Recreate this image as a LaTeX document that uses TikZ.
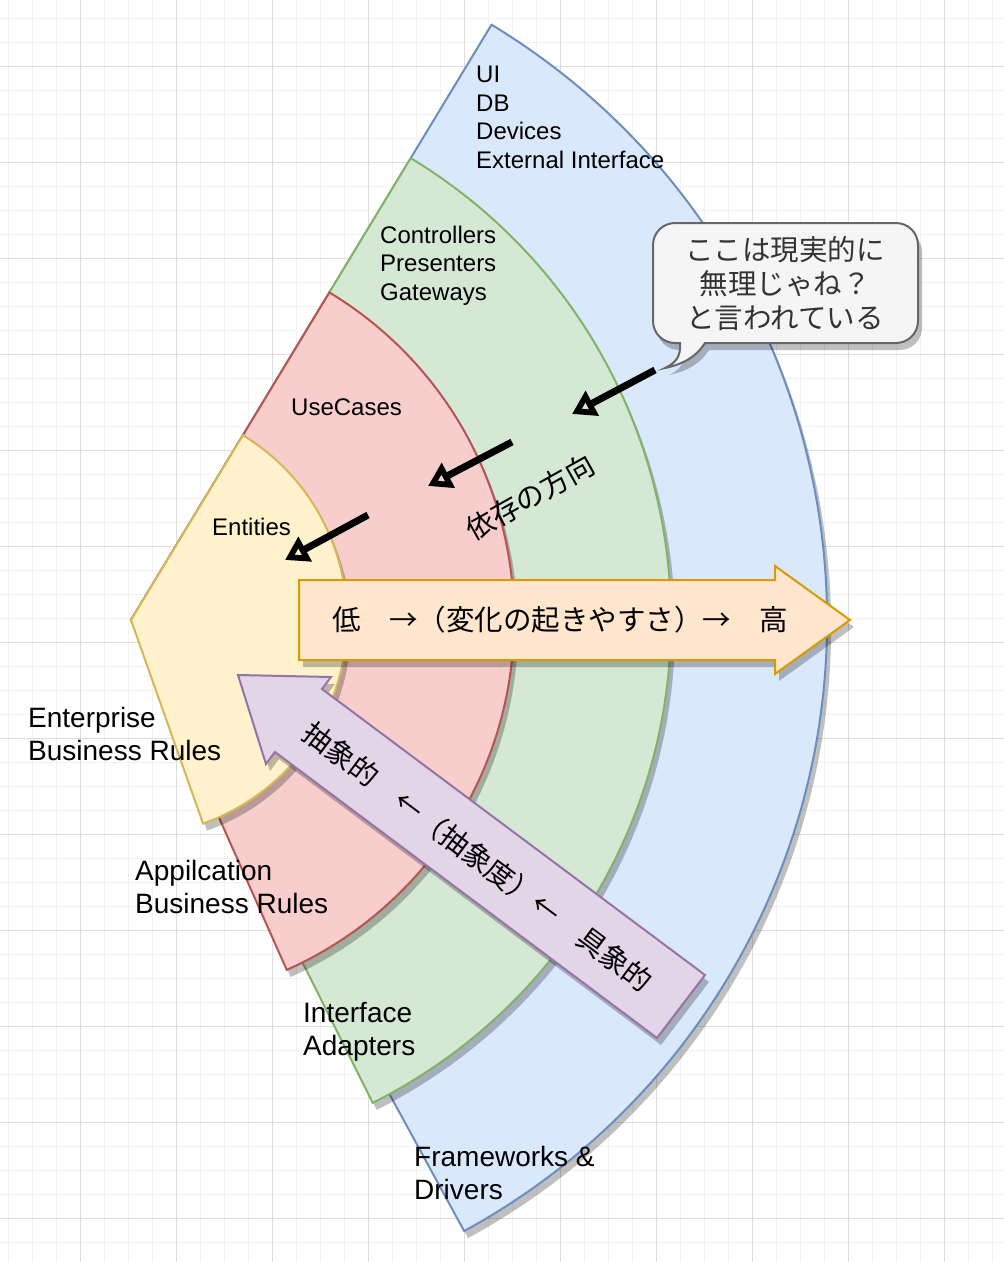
\documentclass[tikz,border=0pt]{standalone}
\usepackage{fontspec}
\setmainfont{Liberation Sans}
\newfontfamily\jpfont{Noto Sans CJK JP}
\usetikzlibrary{arrows.meta,shadows}

\definecolor{gridMinor}{HTML}{F2F2F2}
\definecolor{gridMajor}{HTML}{DDDDDD}
\definecolor{blueFill}{HTML}{DAE8FC}
\definecolor{blueLine}{HTML}{6C8EBF}
\definecolor{greenFill}{HTML}{D5E8D4}
\definecolor{greenLine}{HTML}{82B366}
\definecolor{redFill}{HTML}{F8CECC}
\definecolor{redLine}{HTML}{B85450}
\definecolor{yellowFill}{HTML}{FFF2CC}
\definecolor{yellowLine}{HTML}{D6B656}
\definecolor{orangeFill}{HTML}{FFE6CC}
\definecolor{orangeLine}{HTML}{D79B00}
\definecolor{purpleFill}{HTML}{E1D5E7}
\definecolor{purpleLine}{HTML}{9673A6}
\definecolor{noteFill}{HTML}{F5F5F5}
\definecolor{noteLine}{HTML}{666666}
\definecolor{noteText}{HTML}{333333}

\tikzstyle{minorgrid} = [draw=gridMinor, line width=1pt]
\tikzstyle{majorgrid} = [draw=gridMajor, line width=1pt]
\tikzstyle{sector} = [line width=2pt,
    drop shadow={shadow xshift=4pt, shadow yshift=-7pt, opacity=0.25, fill=black}]
\tikzstyle{blockarrow} = [line width=2pt,
    drop shadow={shadow xshift=4pt, shadow yshift=-7pt, opacity=0.25, fill=black}]
\tikzstyle{ringtext} = [inner sep=0pt, anchor=base west, align=left,
    font=\fontsize{24}{28.5}\selectfont]
\tikzstyle{bigtext} = [inner sep=0pt, anchor=base west, align=left,
    font=\fontsize{28}{33}\selectfont]
\tikzstyle{jptext} = [inner sep=0pt, font=\jpfont\fontsize{28.5}{34}\selectfont]
\tikzstyle{dep} = [draw, line width=7pt, -{Triangle[open, length=23pt, width=27pt]}]

\begin{document}
\begin{tikzpicture}[x=1pt, y=-1pt]
    \useasboundingbox (0,0) rectangle (1004,1262);
    % Background grid
    \foreach \gx in {8,32,...,1004} \draw[minorgrid] (\gx,0) -- (\gx,1262);
    \foreach \gy in {18,42,...,1262} \draw[minorgrid] (0,\gy) -- (1004,\gy);
    \foreach \gx in {80,176,...,1004} \draw[majorgrid] (\gx,0) -- (\gx,1262);
    \foreach \gy in {66,162,...,1262} \draw[majorgrid] (0,\gy) -- (1004,\gy);

    % Rings
    \coordinate (Core) at (131,620);
    \filldraw[sector, fill=blueFill, draw=blueLine] (Core) -- ++(-58.8:696)
        arc[start angle=-58.8, end angle=61.4, radius=696] -- cycle;
    \filldraw[sector, fill=greenFill, draw=greenLine] (Core) -- ++(-58.8:540)
        arc[start angle=-58.8, end angle=63.4, radius=540] -- cycle;
    \filldraw[sector, fill=redFill, draw=redLine] (Core) -- ++(-58.8:383)
        arc[start angle=-58.8, end angle=66.0, radius=383] -- cycle;
    \filldraw[sector, fill=yellowFill, draw=yellowLine] (Core) -- ++(-58.8:216)
        arc[start angle=-58.8, end angle=70.5, radius=216] -- cycle;

    % Place nodes (base = last line)
    \node [ringtext] (Outer) at (476,168) {UI\\DB\\Devices\\External Interface};
    \node [ringtext] (Adapters) at (380,300) {Controllers\\Presenters\\Gateways};
    \node [ringtext] (UseCases) at (291,415) {UseCases};
    \node [ringtext] (Entities) at (212,535) {Entities};
    \node [bigtext] (Enterprise) at (28,760) {Enterprise\\Business Rules};
    \node [bigtext] (Application) at (135,913) {Appilcation\\Business Rules};
    \node [bigtext] (Interface) at (303,1055) {Interface\\Adapters};
    \node [bigtext] (Frameworks) at (414,1199) {Frameworks \&\\Drivers};
    \node [jptext, rotate=29.3] (DepDir) at (530,497) {依存の方向};

    % Dependency arrows
    \coordinate (DepTailA) at (655,370);
    \coordinate (DepHeadA) at (572,414);
    \coordinate (DepTailB) at (512,442);
    \coordinate (DepHeadB) at (428,486);
    \coordinate (DepTailC) at (368,515);
    \coordinate (DepHeadC) at (285,560);
    \path [dep] (DepTailA) -- (DepHeadA);
    \path [dep] (DepTailB) -- (DepHeadB);
    \path [dep] (DepTailC) -- (DepHeadC);

    % Block arrows
    \filldraw[blockarrow, fill=orangeFill, draw=orangeLine] (299,580) -- (775,580)
        -- (775,566) -- (850,620) -- (775,674) -- (775,660) -- (299,660) -- cycle;
    \node [jptext] (Change) at (560,620) {低　→（変化の起きやすさ）→　高};
    \filldraw[blockarrow, fill=purpleFill, draw=purpleLine] (238,675) -- (331,677)
        -- (322,689) -- (705,975) -- (657,1038) -- (275,752) -- (266,764) -- cycle;
    \node [jptext, rotate=-36.8] (Abstract) at (478,857) {抽象的　←（抽象度）←　具象的};

    % Callout
    \filldraw[blockarrow, fill=noteFill, draw=noteLine] (705,343) -- (896,343)
        arc[start angle=90, end angle=0, radius=22] -- (918,245)
        arc[start angle=0, end angle=-90, radius=22] -- (675,223)
        arc[start angle=-90, end angle=-180, radius=22] -- (653,321)
        arc[start angle=180, end angle=90, radius=22] -- (680,343)
        .. controls (681,356) and (676,363) .. (665,368)
        .. controls (684,364) and (697,356) .. (705,343) -- cycle;
    \node [jptext, text=noteText, align=center] (Remark) at (785,284)
        {ここは現実的に\\無理じゃね？\\と言われている};
\end{tikzpicture}
\end{document}
